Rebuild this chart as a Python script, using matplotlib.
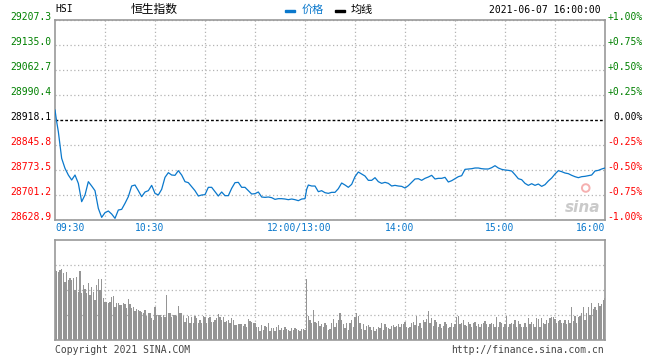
import numpy as np
import matplotlib
matplotlib.use('Agg')
import matplotlib.pyplot as plt
from matplotlib.transforms import blended_transform_factory, offset_copy
from matplotlib.patches import Rectangle

plt.rcParams['font.family'] = ['DejaVu Sans Mono']

# HSI intraday, 2021-06-07 (minutes after 09:30, lunch break removed)
prev_close = 28918.1

price_min = [0, 1, 2, 4, 6, 8, 10, 12, 14, 16, 18, 20, 22, 24, 26, 28, 30, 32, 34, 36,
             38, 40, 42, 44, 46, 48, 50, 52, 54, 56, 58, 60, 62, 64, 66, 68, 70, 72, 74, 76,
             78, 80, 82, 84, 86, 88, 90, 92, 94, 96, 98, 100, 102, 104, 106, 108, 110, 112,
             114, 116, 118, 120, 122, 124, 126, 128, 130, 132, 134, 136, 138, 140, 142, 144,
             146, 148, 150, 151, 152, 154, 156, 158, 160, 162, 164, 166, 168, 170, 172, 174,
             176, 178, 180, 182, 184, 186, 188, 190, 192, 194, 196, 198, 200, 202, 204, 206,
             208, 210, 212, 214, 216, 218, 220, 222, 224, 226, 228, 230, 232, 234, 236, 238,
             240, 242, 244, 246, 248, 250, 252, 254, 256, 258, 260, 262, 264, 266, 268, 270,
             272, 274, 276, 278, 280, 282, 284, 286, 288, 290, 292, 294, 296, 298, 300, 302,
             304, 306, 308, 310, 312, 314, 316, 318, 320, 322, 324, 326, 328, 330]
price_val = [28947.0, 28913.3, 28884.4, 28807.2, 28778.3, 28759.0, 28744.6, 28759.0, 28734.9,
             28681.9, 28701.2, 28739.8, 28727.2, 28713.7, 28662.6, 28636.5, 28650.1, 28654.9,
             28646.2, 28633.7, 28657.8, 28659.7, 28677.1, 28696.4, 28727.2, 28730.1, 28713.7,
             28696.4, 28709.9, 28713.7, 28729.1, 28706.0, 28701.2, 28717.6, 28752.3, 28765.8,
             28759.0, 28758.1, 28771.6, 28759.0, 28739.8, 28736.9, 28725.3, 28713.7, 28698.3,
             28701.2, 28702.2, 28723.4, 28723.4, 28710.8, 28698.3, 28709.9, 28699.3, 28699.3,
             28720.5, 28736.9, 28737.8, 28723.4, 28723.4, 28713.7, 28704.1, 28705.0, 28709.9,
             28695.4, 28694.4, 28695.4, 28693.5, 28688.6, 28690.6, 28690.6, 28689.6, 28687.7,
             28689.6, 28687.7, 28684.8, 28689.6, 28690.6, 28717.6, 28730.1, 28727.2, 28727.2,
             28710.8, 28713.7, 28707.9, 28706.0, 28708.9, 28708.9, 28719.5, 28735.9, 28730.1,
             28723.4, 28732.0, 28754.2, 28767.7, 28761.9, 28756.1, 28743.6, 28743.6, 28751.3,
             28739.8, 28734.9, 28737.8, 28734.9, 28727.2, 28729.1, 28727.2, 28726.2, 28721.4,
             28728.2, 28737.8, 28747.5, 28748.4, 28743.6, 28749.4, 28753.2, 28758.1, 28747.5,
             28749.4, 28749.4, 28752.3, 28738.8, 28742.6, 28748.4, 28754.2, 28757.1, 28775.4,
             28776.4, 28777.3, 28779.3, 28779.3, 28777.3, 28776.4, 28776.4, 28780.2, 28786.0,
             28779.3, 28775.4, 28773.5, 28772.5, 28770.6, 28760.0, 28748.4, 28745.5, 28734.9,
             28729.1, 28733.9, 28729.1, 28733.0, 28726.2, 28731.1, 28741.7, 28750.3, 28761.9,
             28771.6, 28768.7, 28764.8, 28762.9, 28758.1, 28754.2, 28751.3, 28754.2, 28755.2,
             28757.1, 28759.0, 28770.6, 28772.5, 28776.4, 28779.3]

# per-minute volume, relative units (panel top = 100)
volume = [70, 69, 68, 70, 71, 67, 58, 68, 60, 62,
          60, 62, 50, 63, 48, 69, 47, 55, 51, 47,
          57, 45, 53, 48, 40, 55, 61, 50, 61, 42,
          38, 38, 37, 38, 43, 44, 33, 37, 37, 35,
          35, 37, 36, 32, 41, 36, 32, 33, 29, 31,
          30, 29, 28, 27, 30, 24, 27, 27, 22, 20,
          33, 25, 25, 25, 23, 25, 23, 45, 27, 27,
          23, 25, 25, 24, 34, 27, 27, 24, 18, 22,
          24, 17, 23, 17, 24, 22, 17, 20, 17, 24,
          23, 17, 22, 23, 18, 18, 20, 22, 26, 23,
          20, 23, 18, 19, 20, 17, 22, 20, 15, 15,
          16, 16, 16, 14, 16, 13, 21, 19, 18, 17,
          17, 13, 13, 9, 15, 10, 14, 13, 17, 9,
          12, 12, 9, 13, 15, 10, 12, 10, 13, 11,
          10, 9, 12, 10, 12, 11, 10, 9, 11, 11,
          10, 61, 24, 20, 17, 30, 18, 17, 19, 14,
          16, 13, 17, 15, 10, 11, 17, 21, 13, 17,
          20, 27, 20, 16, 12, 17, 10, 17, 20, 13,
          23, 27, 24, 17, 11, 16, 10, 14, 15, 13,
          10, 13, 9, 11, 13, 12, 17, 10, 16, 13,
          12, 11, 14, 15, 13, 14, 16, 13, 16, 16,
          18, 13, 12, 13, 17, 18, 15, 24, 14, 17,
          12, 20, 18, 21, 29, 17, 22, 14, 20, 18,
          13, 16, 12, 14, 18, 16, 12, 13, 17, 13,
          16, 23, 24, 16, 17, 20, 15, 14, 18, 16,
          13, 17, 18, 14, 16, 13, 16, 17, 19, 16,
          13, 16, 17, 16, 13, 23, 13, 18, 17, 13,
          16, 24, 13, 16, 17, 16, 20, 13, 19, 16,
          13, 13, 17, 13, 22, 16, 18, 16, 13, 22,
          21, 13, 22, 17, 16, 20, 17, 22, 23, 23,
          21, 17, 19, 20, 17, 17, 20, 16, 20, 17,
          33, 19, 24, 17, 23, 24, 27, 33, 20, 27,
          33, 25, 37, 31, 33, 30, 37, 34, 36, 40, 42]

tick_min = [0, 60, 150, 210, 270, 330]
tick_txt = ['09:30', '10:30', '12:00/13:00', '14:00', '15:00', '16:00']
pct_levels = [1.0, 0.75, 0.5, 0.25, 0.0, -0.25, -0.5, -0.75, -1.0]

BLUE = '#0a78cc'
GREEN = '#008000'
RED = '#ff0000'
FRAME = '#999999'
GRID = '#b4b4b4'

W, H = 660, 360
fig = plt.figure(figsize=(W / 100, H / 100), dpi=100)
ax = fig.add_axes([55 / W, 1 - 220 / H, 550 / W, 200 / H])
axv = fig.add_axes([55 / W, 1 - 340 / H, 550 / W, 100 / H])

n_min = len(volume) - 1
lo, hi = prev_close * 0.99, prev_close * 1.01

for a in (ax, axv):
    a.set_xlim(0, n_min)
    a.set_xticks([])
    a.set_yticks([])
    for s in a.spines.values():
        s.set_color(FRAME)
        s.set_linewidth(1.2)
    for m in range(30, n_min, 30):
        a.axvline(m, color=GRID, lw=0.9, ls=(0, (1, 2)), zorder=0)

ax.set_ylim(lo, hi)
for p in pct_levels:
    price = prev_close * (1 + p / 100)
    if p == 0:
        ax.axhline(price, color='black', lw=1, ls=(0, (2, 1.5)), zorder=1)
        col = 'black'
    else:
        ax.axhline(price, color=GRID, lw=0.9, ls=(0, (1, 2)), zorder=0)
        col = GREEN if p > 0 else RED
    tr = blended_transform_factory(ax.transAxes, ax.transData)
    ax.text(-4 / 550, price, f'{price:.1f}', transform=tr, ha='right', va='baseline',
            fontsize=7, color=col)
    lbl = f'{p:+.2f}%' if p != 0 else '0.00%'
    ax.text(1 + 38 / 550, price, lbl, transform=tr, ha='right', va='baseline',
            fontsize=7, color=col)

ax.plot(price_min, price_val, color=BLUE, lw=0.9, zorder=3)

# x labels under the price panel
trx = blended_transform_factory(ax.transData, ax.transAxes)
for i, (m, t) in enumerate(zip(tick_min, tick_txt)):
    if i == 0:
        ha, dx = 'left', 0
    elif i == len(tick_min) - 1:
        ha, dx = 'right', 0
    else:
        ha, dx = 'center', -5.5
    ax.text(m, 0, t, transform=offset_copy(trx, fig, x=dx, y=-11, units='dots'),
            ha=ha, va='baseline', fontsize=7, color=BLUE)

# sina watermark
ax.text(0.96, 0.065, 'sina', transform=ax.transAxes, ha='center', va='center',
        fontsize=11, fontstyle='italic', fontweight='bold', color='#cacaca',
        family=['DejaVu Sans'], zorder=2)
ax.scatter([0.965], [0.16], transform=ax.transAxes, s=30, facecolor='none',
           edgecolor='#f5b0b0', linewidth=1.4, zorder=2)

# volume panel
axv.set_ylim(0, 100)
for v in (25, 50, 75):
    axv.axhline(v, color=GRID, lw=0.9, ls=(0, (1, 2)), zorder=0)
axv.bar(np.arange(len(volume)), volume, width=0.7, color='#959595', linewidth=0,
        antialiased=False, zorder=2)

# header
fig.text(55 / W, 1 - 12.5 / H, 'HSI', fontsize=7, va='baseline')
fig.text(154.5 / W, 1 - 9.5 / H, '恒生指数', fontsize=8.5, ha='center', va='center',
         family=['Noto Sans CJK SC'])
fig.add_artist(Rectangle((285 / W, 1 - 12 / H), 10 / W, 2.5 / H,
                         transform=fig.transFigure, color=BLUE))
fig.text(301.5 / W, 1 - 9.5 / H, '价格', fontsize=8, va='center', color=BLUE,
         family=['Noto Sans CJK SC'])
fig.add_artist(Rectangle((335 / W, 1 - 12 / H), 10 / W, 2.5 / H,
                         transform=fig.transFigure, color='black'))
fig.text(350.5 / W, 1 - 9.5 / H, '均线', fontsize=8, va='center',
         family=['Noto Sans CJK SC'])
fig.text(601 / W, 1 - 12.7 / H, '2021-06-07 16:00:00', fontsize=7, ha='right',
         va='baseline')

# footer
fig.text(55 / W, 1 - 353 / H, 'Copyright 2021 SINA.COM', fontsize=7, va='baseline',
         color='#444444')
fig.text(604 / W, 1 - 353 / H, 'http://finance.sina.com.cn', fontsize=7, ha='right',
         va='baseline', color='#444444')

fig.savefig('out.png', dpi=100)
